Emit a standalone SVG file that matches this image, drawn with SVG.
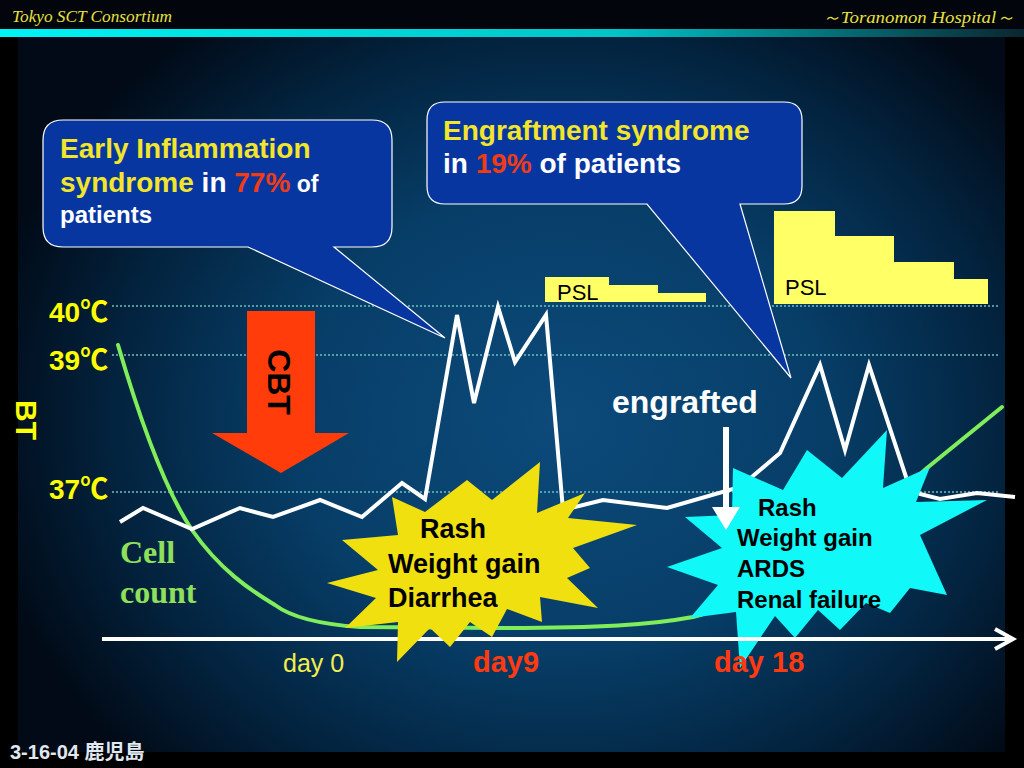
<svg xmlns="http://www.w3.org/2000/svg" width="1024" height="768" viewBox="0 0 1024 768">
<defs>
<radialGradient id="bg" gradientUnits="userSpaceOnUse" cx="560" cy="420" r="560" gradientTransform="translate(560 420) scale(1.05 0.9) translate(-560 -420)">
<stop offset="0" stop-color="#0c4a7a"/>
<stop offset="0.45" stop-color="#073e68"/>
<stop offset="0.75" stop-color="#032440"/>
<stop offset="1" stop-color="#010a16"/>
</radialGradient>
<linearGradient id="bar" x1="0" y1="0" x2="1024" y2="0" gradientUnits="userSpaceOnUse">
<stop offset="0" stop-color="#00f4f4"/>
<stop offset="0.6" stop-color="#00c4c8"/>
<stop offset="1" stop-color="#0a2630"/>
</linearGradient>
</defs>
<style>
.sans{font-family:"Liberation Sans",Arial,"Noto Sans CJK JP",sans-serif}
.grid{stroke:#6cc0c0;stroke-width:1.4;stroke-dasharray:2 2;fill:none}
.tl{fill:#ffff00;font-size:28px;font-weight:bold}
.callout{fill:#0836a0;stroke:#ffffff;stroke-width:1.2}
.cy{fill:#f2e52a}
.cw{fill:#ffffff}
.cr{fill:#f03c14}
.psl{fill:#ffff66}
.psltxt{fill:#000;font-size:22px}
.temp{fill:none;stroke:#ffffff;stroke-width:4;stroke-linejoin:miter}
.cell{fill:none;stroke:#80ee5a;stroke-width:4;stroke-linecap:round}
.star-txt{fill:#000;font-weight:bold}
.day{font-size:29px;font-weight:bold;fill:#ff3a10}
</style>
<rect x="0" y="0" width="1024" height="768" fill="#000"/>
<rect x="18" y="37" width="987" height="715" fill="url(#bg)"/>
<rect x="0" y="0" width="1024" height="29" fill="#02060c"/>
<rect x="0" y="29" width="1024" height="8" fill="url(#bar)"/>
<text x="12" y="22" font-family="Liberation Serif,serif" font-style="italic" font-size="17" fill="#e8e040" textLength="160" lengthAdjust="spacingAndGlyphs">Tokyo SCT Consortium</text>
<text x="822" y="23" font-family="Liberation Serif,serif" font-style="italic" font-size="17" fill="#e8e040" textLength="193" lengthAdjust="spacingAndGlyphs">～Toranomon Hospital～</text>

<g id="grid">
<line class="grid" x1="112" y1="306" x2="1000" y2="306"/>
<line class="grid" x1="112" y1="355" x2="1000" y2="355"/>
<line class="grid" x1="112" y1="492" x2="1000" y2="492"/>
</g>
<g id="temp-labels" class="sans">
<text class="tl" x="49" y="322">40℃</text>
<text class="tl" x="49" y="370">39℃</text>
<text class="tl" x="49" y="499">37℃</text>
<text transform="translate(27 420) rotate(90)" text-anchor="middle" y="11" font-size="30" font-weight="bold" fill="#ffff00">BT</text>
</g>

<g id="cbt">
<polygon points="247,311 315,311 315,433 349,433 281,473 212,433 247,433" fill="#ff3c0a"/>
<text class="sans" transform="translate(280 382) rotate(90)" text-anchor="middle" y="12" font-size="32" font-weight="bold" fill="#000">CBT</text>
</g>

<g id="callout-early">
<path class="callout" d="M63,120 H372 Q392,120 392,140 V227 Q392,247 372,247 H334 L445,338 L248,247 H63 Q43,247 43,227 V140 Q43,120 63,120 Z"/>
<text class="sans" font-weight="bold" x="60" y="158" font-size="28"><tspan class="cy">Early Inflammation</tspan></text>
<text class="sans" font-weight="bold" x="60" y="192" font-size="28"><tspan class="cy">syndrome</tspan><tspan class="cw"> in </tspan><tspan class="cr">77%</tspan><tspan class="cw" font-size="23"> of</tspan></text>
<text class="sans cw" font-weight="bold" x="60" y="223" font-size="24">patients</text>
</g>

<g id="callout-engraftment">
<path class="callout" d="M445,102 H784 Q802,102 802,120 V186 Q802,204 784,204 H740 L791,378 L647,204 H445 Q427,204 427,186 V120 Q427,102 445,102 Z"/>
<text class="sans cy" font-weight="bold" x="443" y="140" font-size="28">Engraftment syndrome</text>
<text class="sans" font-weight="bold" x="443" y="173" font-size="28"><tspan class="cw">in </tspan><tspan class="cr">19%</tspan><tspan class="cw"> of patients</tspan></text>
</g>

<g id="psl-small">
<polygon class="psl" points="545,277 609,277 609,285 658,285 658,293 706,293 706,302 545,302"/>
<text class="sans psltxt" x="557" y="300">PSL</text>
</g>
<g id="psl-large">
<polygon class="psl" points="774,211 835,211 835,236 894,236 894,262 954,262 954,279 988,279 988,304 774,304"/>
<text class="sans psltxt" x="785" y="295">PSL</text>
</g>

<g id="connectors">
<path id="cell-count-curve" class="cell" d="M118,345 C140,420 165,490 192,530 C220,570 250,590 275,605 C295,620 330,625 360,627 L500,628 C600,628 650,625 693,617 C760,600 860,530 927,468 L1002,407"/>
<polyline id="bt-curve" class="temp" points="120,522 143,508 192,529 240,508 273,517 320,500 362,517 402,483 425,499 457,315 474,403 498,307 515,362 546,315 563,510 603,500 667,508 740,487 780,453 820,365 845,450 869,365 907,480 920,494 940,499 977,493 1015,497"/>
</g>

<g id="star-engraftment">
<polygon points="887,430 883,488 930,467 916,502 987,500 920,535 947,595 910,588 890,613 866,603 840,630 818,610 795,638 775,616 740,668 736,612 690,618 718,585 667,567 722,548 685,517 732,515 733,468 783,490 807,450 842,478" fill="#10f8f8"/>
<text class="sans star-txt" font-size="24"><tspan x="758" y="516">Rash</tspan><tspan x="737" y="546">Weight gain</tspan><tspan x="737" y="577">ARDS</tspan><tspan x="737" y="608">Renal failure</tspan></text>
</g>

<g id="axis">
<line x1="102" y1="639" x2="1011" y2="639" stroke="#fff" stroke-width="4"/>
<polyline points="995,629 1013,639 995,649" fill="none" stroke="#fff" stroke-width="4"/>
</g>

<g id="star-early">
<polygon points="392,497 425,512 467,480 492,500 540,462 537,513 585,493 568,518 637,525 573,548 590,568 567,578 598,608 540,597 542,622 507,609 492,637 470,622 450,647 430,628 397,662 398,622 345,628 376,598 327,583 378,570 342,540 398,535" fill="#f0e010"/>
<text class="sans star-txt" font-size="27"><tspan x="420" y="538">Rash</tspan><tspan x="388" y="573">Weight gain</tspan><tspan x="388" y="607">Diarrhea</tspan></text>
</g>

<g id="engrafted">
<text class="sans" x="612" y="413" font-size="32" font-weight="bold" fill="#fff">engrafted</text>
<rect x="723" y="427" width="6" height="82" fill="#fff"/>
<polygon points="712,507 740,507 726,530" fill="#fff"/>
</g>

<g id="cell-label">
<text font-family="Liberation Serif,serif" font-weight="bold" font-size="32" fill="#8ee05a"><tspan x="120" y="563">Cell</tspan><tspan x="120" y="603">count</tspan></text>
</g>

<g id="days" class="sans">
<text x="283" y="672" font-size="25" fill="#f0ee50">day 0</text>
<text class="day" x="473" y="672">day9</text>
<text class="day" x="714" y="672">day 18</text>
</g>

<text class="sans" x="10" y="759" font-size="20" font-weight="bold" fill="#e0e8f0">3-16-04 鹿児島</text>
</svg>
